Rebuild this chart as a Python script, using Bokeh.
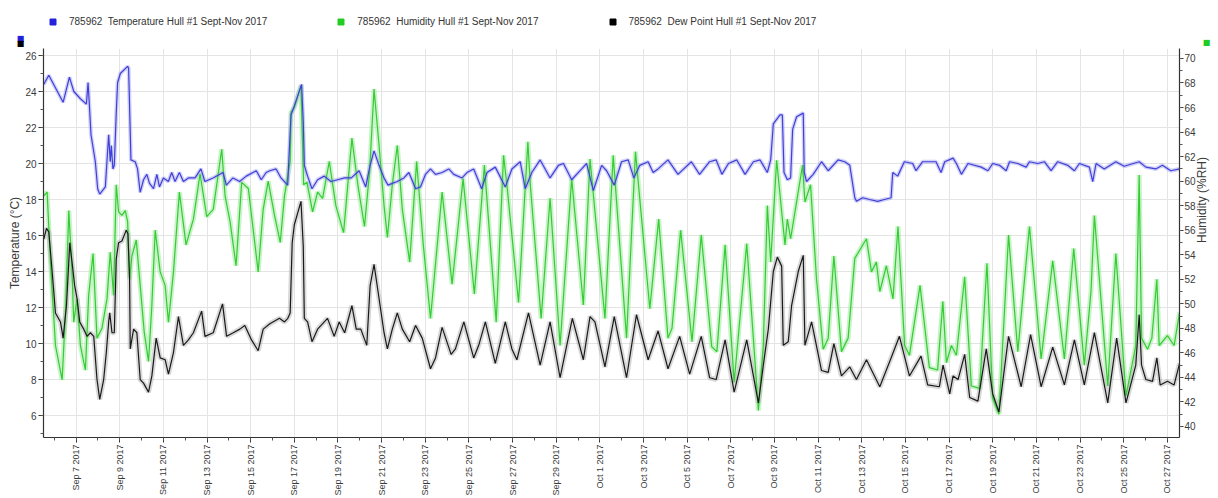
import math
import pandas as pd
from bokeh.plotting import figure
from bokeh.layouts import column
from bokeh.models import (Range1d, LinearAxis, FixedTicker, DatetimeTickFormatter,
                          Legend, LegendItem, Label)
from bokeh.embed import file_html
from bokeh.resources import INLINE

YEAR = "2017-"

# ---------------- Temperature (left axis, degC) ----------------
temp_times = [
    "09-05 12:30", "09-05 18:00", "09-06 09:45", "09-06 16:40", "09-06 21:30", "09-07 04:45",
    "09-07 11:20", "09-07 13:10", "09-07 14:40", "09-07 16:25", "09-07 21:10", "09-07 23:45",
    "09-08 02:00", "09-08 08:10", "09-08 11:50", "09-08 13:35", "09-08 14:45", "09-08 16:30",
    "09-08 18:00", "09-08 20:10", "09-08 21:40", "09-09 00:40", "09-09 08:40", "09-09 09:45",
    "09-09 12:20", "09-09 17:00", "09-09 19:35", "09-09 22:30", "09-10 02:10", "09-10 05:50",
    "09-10 08:45", "09-10 13:10", "09-10 16:50", "09-10 19:40", "09-11 00:00", "09-11 05:30",
    "09-11 09:10", "09-11 12:50", "09-11 17:35", "09-11 22:00", "09-12 03:30", "09-12 10:50",
    "09-12 17:15", "09-12 21:40", "09-13 06:35", "09-13 17:35", "09-13 21:15", "09-14 04:30",
    "09-14 11:50", "09-14 19:10", "09-15 06:10", "09-15 11:40", "09-15 17:00", "09-15 21:00",
    "09-16 03:55", "09-16 09:20", "09-16 16:40", "09-16 20:20", "09-17 00:00", "09-17 08:00",
    "09-17 09:50", "09-17 11:00", "09-17 14:35", "09-17 19:25", "09-18 01:35", "09-18 08:55",
    "09-18 16:10", "09-18 23:30", "09-19 07:20", "09-19 14:40", "09-19 23:15", "09-20 06:30",
    "09-20 11:20", "09-20 15:40", "09-20 21:10", "09-21 02:40", "09-21 07:00", "09-21 11:45",
    "09-21 17:15", "09-22 00:30", "09-22 06:00", "09-22 13:20", "09-22 18:45", "09-23 00:15",
    "09-23 05:45", "09-23 11:15", "09-23 18:30", "09-24 01:50", "09-24 07:20", "09-24 16:30",
    "09-24 21:50", "09-25 05:15", "09-25 14:00", "09-25 19:55", "09-26 05:00", "09-26 16:00",
    "09-26 23:15", "09-27 08:25", "09-27 13:55", "09-27 21:10", "09-28 06:20", "09-28 17:15",
    "09-29 02:25", "09-29 07:55", "09-29 17:00", "09-30 04:00", "09-30 09:25", "09-30 16:50",
    "10-01 01:55", "10-01 07:25", "10-01 15:50", "10-01 23:50", "10-02 07:10", "10-02 13:20",
    "10-02 19:55", "10-03 05:05", "10-03 10:35", "10-03 16:00", "10-04 02:55", "10-04 13:55",
    "10-05 04:35", "10-05 13:40", "10-06 00:40", "10-06 07:55", "10-06 14:10", "10-06 21:25",
    "10-07 06:35", "10-07 15:40", "10-08 00:50", "10-08 08:10", "10-08 16:10", "10-08 19:50",
    "10-08 22:45", "10-09 06:05", "10-09 08:40", "10-09 10:30", "10-09 14:10", "10-09 17:45",
    "10-09 20:00", "10-10 00:20", "10-10 07:40", "10-10 08:45", "10-10 11:20", "10-10 18:35",
    "10-11 03:45", "10-11 11:05", "10-11 22:00", "10-12 05:20", "10-12 10:50", "10-12 16:20",
    "10-12 18:10", "10-13 01:05", "10-13 08:25", "10-13 17:35", "10-14 00:55", "10-14 08:15",
    "10-14 10:05", "10-14 15:30", "10-14 22:50", "10-15 08:00", "10-15 11:40", "10-15 19:00",
    "10-16 09:40", "10-16 15:10", "10-16 19:15", "10-17 04:25", "10-17 08:05", "10-17 13:35",
    "10-17 20:50", "10-18 11:25", "10-18 18:45", "10-19 00:00", "10-19 07:30", "10-19 14:50",
    "10-19 18:30", "10-20 03:35", "10-20 12:45", "10-20 16:25", "10-21 01:30", "10-21 08:50",
    "10-21 16:10", "10-21 23:30", "10-22 10:30", "10-22 17:50", "10-22 23:20", "10-23 10:20",
    "10-23 14:00", "10-23 17:40", "10-24 02:40", "10-24 15:25", "10-25 00:35", "10-25 17:05",
    "10-26 00:25", "10-26 11:20", "10-26 18:40", "10-27 03:50", "10-27 13:30",
]
temp_values = [
    24.4, 24.9, 23.4, 24.8, 24.0, 23.6,
    23.3, 24.5, 23.2, 21.6, 20.1, 18.6,
    18.3, 18.7, 21.6, 20.1, 21.0, 19.7,
    19.9, 22.8, 24.5, 25.0, 25.4, 25.3,
    20.2, 20.1, 19.7, 18.4, 19.1, 19.4,
    18.9, 18.6, 19.4, 18.7, 19.2, 19.0,
    19.5, 19.0, 19.5, 19.0, 19.2, 19.2,
    19.7, 19.0, 19.2, 19.5, 18.8, 19.2,
    19.0, 19.3, 19.6, 19.1, 19.5, 19.6,
    19.7, 19.2, 18.8, 22.7, 23.2, 24.4,
    22.3, 19.9, 19.3, 18.6, 19.1, 19.3,
    19.0, 19.1, 19.2, 19.2, 19.6, 18.7,
    19.9, 20.7, 19.9, 19.2, 18.8, 18.9,
    19.0, 19.2, 19.5, 18.6, 18.7, 19.4,
    19.7, 19.4, 19.5, 19.7, 19.4, 19.2,
    19.5, 19.7, 18.6, 19.5, 19.8, 18.7,
    19.7, 20.1, 18.6, 19.5, 20.2, 19.2,
    19.9, 20.0, 19.1, 19.7, 20.0, 18.5,
    19.9, 19.6, 18.8, 20.1, 20.2, 19.2,
    19.9, 20.1, 19.5, 19.7, 20.2, 19.4,
    20.1, 19.4, 20.1, 20.2, 19.4, 20.0,
    20.2, 19.4, 20.1, 20.2, 19.5, 20.2,
    22.2, 22.7, 22.7, 19.5, 19.1, 19.2,
    21.9, 22.6, 22.8, 19.5, 19.0, 19.4,
    20.1, 19.6, 20.2, 20.1, 19.9, 18.1,
    17.9, 18.1, 18.0, 17.9, 18.0, 18.1,
    19.5, 19.3, 20.1, 20.0, 19.6, 20.1,
    20.1, 19.5, 20.1, 20.3, 20.0, 19.4,
    20.0, 19.8, 19.6, 20.0, 19.9, 19.6,
    20.1, 20.0, 19.8, 20.1, 20.0, 20.1,
    19.6, 20.1, 19.9, 19.6, 20.0, 19.8,
    19.0, 20.0, 19.7, 20.1, 19.85, 20.1,
    19.8, 19.7, 19.9, 19.6, 19.7,
]

# ---------------- Humidity (right axis, %RH) ----------------
hum_times = [
    "09-05 12:30", "09-05 16:10", "09-05 19:50", "09-06 01:20", "09-06 08:40", "09-06 12:20",
    "09-06 16:00", "09-06 19:35", "09-06 21:25", "09-07 01:05", "09-07 04:45", "09-07 10:15",
    "09-07 13:50", "09-07 18:40", "09-07 23:00", "09-08 04:30", "09-08 10:00", "09-08 13:35",
    "09-08 17:15", "09-08 20:10", "09-08 22:45", "09-09 02:25", "09-09 06:05", "09-09 08:40",
    "09-09 10:50", "09-09 13:25", "09-09 18:10", "09-09 22:30", "09-10 02:55", "09-10 07:40",
    "09-10 11:20", "09-10 15:00", "09-10 20:30", "09-11 01:55", "09-11 05:35", "09-11 11:05",
    "09-11 17:35", "09-12 00:55", "09-12 09:00", "09-12 16:20", "09-12 23:40", "09-13 06:50",
    "09-13 16:10", "09-13 19:50", "09-14 01:20", "09-14 07:55", "09-14 14:05", "09-14 21:25",
    "09-15 08:15", "09-15 13:45", "09-15 19:15", "09-16 02:15", "09-16 08:30", "09-16 13:10",
    "09-16 19:25", "09-16 20:20", "09-17 00:00", "09-17 07:20", "09-17 10:15", "09-17 13:55",
    "09-17 20:05", "09-18 01:35", "09-18 07:05", "09-18 14:25", "09-18 21:40", "09-19 06:10",
    "09-19 15:20", "09-19 21:50", "09-20 05:10", "09-20 10:40", "09-20 15:40", "09-20 21:10",
    "09-21 02:40", "09-21 06:20", "09-21 11:45", "09-21 17:15", "09-21 22:45", "09-22 06:50",
    "09-22 14:30", "09-22 21:50", "09-23 05:45", "09-23 18:30", "09-24 05:30", "09-24 17:35",
    "09-25 06:00", "09-25 17:00", "09-26 06:00", "09-26 14:05", "09-26 17:45", "09-27 06:35",
    "09-27 16:50", "09-27 19:30", "09-28 07:25", "09-28 17:15", "09-29 04:15", "09-29 17:00",
    "09-30 05:50", "09-30 13:10", "10-01 05:35", "10-01 14:40", "10-02 05:20", "10-02 15:10",
    "10-03 06:55", "10-03 16:40", "10-04 02:55", "10-04 07:20", "10-04 16:50", "10-05 05:20",
    "10-05 15:30", "10-06 03:00", "10-06 08:40", "10-06 17:45", "10-07 03:40", "10-07 17:30",
    "10-08 06:20", "10-08 11:45", "10-08 16:10", "10-08 19:50", "10-09 02:25", "10-09 07:55",
    "10-09 11:35", "10-09 14:10", "10-09 17:45", "10-10 00:20", "10-10 06:55", "10-10 09:30",
    "10-10 15:40", "10-10 22:15", "10-11 05:35", "10-11 11:05", "10-11 17:20", "10-12 01:40",
    "10-12 09:00", "10-12 16:20", "10-13 05:10", "10-13 10:40", "10-13 16:05", "10-13 19:50",
    "10-14 03:05", "10-14 10:20", "10-14 15:50", "10-14 23:10", "10-15 04:25", "10-15 16:05",
    "10-16 02:20", "10-16 11:25", "10-16 17:10", "10-16 21:05", "10-17 02:35", "10-17 08:05",
    "10-17 17:10", "10-18 00:30", "10-18 09:40", "10-18 17:40", "10-19 00:00", "10-19 06:50",
    "10-19 17:25", "10-20 03:35", "10-20 16:25", "10-21 05:15", "10-21 18:00", "10-22 06:50",
    "10-22 17:05", "10-23 04:45", "10-23 12:05", "10-23 15:50", "10-24 06:30", "10-24 15:25",
    "10-25 02:35", "10-25 13:20", "10-25 17:05", "10-25 19:40", "10-26 02:15", "10-26 07:00",
    "10-26 12:30", "10-26 15:05", "10-27 00:10", "10-27 07:30", "10-27 13:30",
]
hum_values = [
    58.8, 59.1, 53.4, 46.6, 43.8, 49.3,
    57.6, 52.6, 48.5, 50.4, 46.6, 44.6,
    50.7, 54.1, 47.2, 48.0, 50.4, 54.2,
    50.7, 59.7, 57.5, 57.2, 57.6, 56.7,
    52.0, 53.9, 55.2, 51.5, 47.7, 45.3,
    49.9, 56.0, 52.6, 51.5, 48.5, 52.6,
    59.1, 54.8, 56.9, 60.6, 57.1, 57.7,
    62.6, 58.8, 56.7, 53.1, 59.9, 59.4,
    52.6, 57.7, 60.0, 57.2, 55.0, 58.8,
    61.6, 65.6, 66.0, 67.8, 59.7, 59.9,
    57.5, 59.1, 58.6, 61.6, 58.0, 55.8,
    63.5, 59.7, 56.3, 60.7, 67.5, 62.9,
    58.0, 55.4, 59.7, 62.9, 57.7, 53.4,
    61.6, 54.8, 48.8, 59.1, 51.6, 60.2,
    50.8, 61.3, 48.5, 62.1, 59.7, 50.1,
    63.2, 59.7, 48.8, 58.6, 46.6, 60.2,
    49.9, 61.8, 48.8, 62.1, 47.2, 62.4,
    49.6, 56.9, 47.2, 48.0, 56.0, 46.9,
    55.6, 46.5, 46.1, 54.8, 43.6, 54.9,
    41.3, 46.6, 58.0, 53.4, 61.7, 57.5,
    54.8, 56.9, 55.3, 58.3, 61.3, 58.3,
    59.7, 52.0, 46.3, 47.2, 53.9, 46.1,
    47.2, 53.7, 55.3, 52.6, 53.4, 51.0,
    53.1, 50.4, 56.3, 46.6, 45.8, 51.5,
    44.8, 44.6, 50.2, 45.2, 46.6, 45.8,
    52.2, 43.3, 43.1, 53.3, 42.3, 41.0,
    55.6, 46.1, 56.3, 45.5, 53.5, 45.5,
    54.5, 45.0, 51.0, 57.2, 43.3, 54.1,
    42.5, 46.6, 60.5, 47.2, 46.3, 47.2,
    52.0, 46.6, 47.4, 46.6, 49.3,
]

# ---------------- Dew point (left axis, degC) ----------------
dew_times = [
    "09-05 12:30", "09-05 15:25", "09-05 18:00", "09-05 21:40", "09-06 01:20", "09-06 06:50",
    "09-06 09:45", "09-06 13:25", "09-06 17:05", "09-06 19:35", "09-06 22:30", "09-07 01:05",
    "09-07 04:00", "09-07 08:25", "09-07 12:05", "09-07 15:45", "09-07 19:25", "09-07 23:00",
    "09-08 02:00", "09-08 06:20", "09-08 09:15", "09-08 11:50", "09-08 13:00", "09-08 15:30",
    "09-08 18:00", "09-08 20:10", "09-08 22:45", "09-09 02:25", "09-09 07:10", "09-09 09:00",
    "09-09 10:50", "09-09 11:35", "09-09 15:15", "09-09 18:50", "09-09 22:30", "09-10 02:10",
    "09-10 07:40", "09-10 11:20", "09-10 16:05", "09-10 20:30", "09-11 01:55", "09-11 05:35",
    "09-11 11:05", "09-11 16:35", "09-11 22:00", "09-12 03:30", "09-12 09:00", "09-12 18:05",
    "09-12 21:45", "09-13 06:50", "09-13 17:05", "09-13 21:30", "09-14 04:50", "09-14 12:05",
    "09-14 17:35", "09-15 00:55", "09-15 08:15", "09-15 13:45", "09-15 21:05", "09-16 07:40",
    "09-16 13:10", "09-16 16:50", "09-16 19:25", "09-16 21:40", "09-17 00:00", "09-17 07:20",
    "09-17 09:50", "09-17 11:00", "09-17 14:35", "09-17 19:25", "09-18 01:35", "09-18 12:30",
    "09-18 19:50", "09-19 01:20", "09-19 07:20", "09-19 15:20", "09-19 20:05", "09-20 01:05",
    "09-20 07:40", "09-20 11:20", "09-20 15:40", "09-20 21:10", "09-21 02:40", "09-21 06:20",
    "09-21 11:45", "09-21 17:15", "09-21 22:45", "09-22 06:50", "09-22 13:20", "09-22 20:40",
    "09-23 05:45", "09-23 11:15", "09-23 18:30", "09-24 04:25", "09-24 09:10", "09-24 18:25",
    "09-25 05:15", "09-25 10:45", "09-25 18:05", "09-26 05:00", "09-26 16:00", "09-26 23:15",
    "09-27 04:45", "09-27 17:30", "09-28 06:20", "09-28 17:15", "09-29 04:15", "09-29 17:45",
    "09-30 05:50", "09-30 13:10", "09-30 18:35", "10-01 05:35", "10-01 15:50", "10-02 05:20",
    "10-02 16:15", "10-03 05:05", "10-03 16:00", "10-04 02:55", "10-04 15:45", "10-05 02:45",
    "10-05 15:30", "10-06 00:40", "10-06 07:55", "10-06 17:45", "10-07 03:40", "10-07 17:30",
    "10-08 06:20", "10-08 11:45", "10-08 17:15", "10-08 22:45", "10-09 03:10", "10-09 07:55",
    "10-09 09:40", "10-09 15:10", "10-09 18:50", "10-10 02:10", "10-10 07:40", "10-10 09:30",
    "10-10 16:50", "10-11 03:45", "10-11 11:05", "10-11 17:20", "10-12 01:40", "10-12 10:50",
    "10-12 18:10", "10-13 05:10", "10-13 19:50", "10-14 08:15", "10-14 17:25", "10-15 04:25",
    "10-15 17:10", "10-16 00:30", "10-16 13:20", "10-16 17:25", "10-17 00:45", "10-17 04:25",
    "10-17 09:55", "10-17 17:10", "10-17 22:40", "10-18 07:45", "10-18 16:55", "10-19 00:00",
    "10-19 06:50", "10-19 17:25", "10-20 07:20", "10-20 17:40", "10-21 05:15", "10-21 18:00",
    "10-22 06:50", "10-22 17:50", "10-23 04:45", "10-23 15:50", "10-24 06:30", "10-24 16:20",
    "10-25 02:35", "10-25 13:20", "10-25 17:05", "10-25 19:40", "10-26 00:25", "10-26 07:45",
    "10-26 12:30", "10-26 16:10", "10-27 00:10", "10-27 07:30", "10-27 13:30",
]
dew_values = [
    15.8, 16.4, 16.2, 14.0, 11.7, 11.2,
    10.3, 12.1, 15.6, 14.5, 13.2, 12.5,
    11.2, 10.8, 10.4, 10.6, 10.4, 8.0,
    6.9, 8.0, 9.5, 11.2, 11.7, 10.6,
    10.6, 14.7, 15.6, 15.7, 16.3, 16.1,
    13.6, 9.7, 10.8, 10.6, 8.0, 7.8,
    7.3, 8.2, 10.3, 9.2, 9.1, 8.3,
    9.5, 11.5, 9.9, 10.2, 10.6, 11.8,
    10.4, 10.6, 12.2, 10.4, 10.6, 10.8,
    11.0, 10.2, 9.6, 10.8, 11.1, 11.4,
    11.2, 11.4, 11.7, 15.6, 16.6, 17.9,
    15.4, 11.4, 11.2, 10.1, 10.8, 11.4,
    10.4, 11.2, 10.6, 12.1, 10.8, 10.8,
    9.9, 13.2, 14.4, 12.5, 10.6, 9.7,
    10.8, 11.7, 10.8, 10.1, 11.0, 10.3,
    8.6, 9.2, 10.9, 9.4, 9.7, 11.2,
    9.2, 9.9, 11.2, 8.9, 11.2, 9.7,
    9.1, 11.7, 8.8, 11.2, 8.1, 11.4,
    9.1, 11.5, 11.2, 8.7, 11.5, 8.1,
    11.6, 9.1, 10.7, 8.6, 10.4, 8.3,
    10.4, 8.1, 8.0, 10.2, 7.3, 10.2,
    6.7, 8.8, 10.8, 14.0, 14.8, 14.3,
    9.9, 10.1, 12.1, 14.0, 14.9, 9.9,
    11.2, 8.5, 8.4, 10.0, 8.2, 8.7,
    8.0, 9.1, 7.6, 9.2, 10.4, 8.2,
    9.3, 7.7, 7.6, 8.8, 7.2, 8.2,
    8.0, 9.4, 7.0, 6.8, 9.7, 7.2,
    6.2, 10.4, 7.6, 10.5, 7.6, 9.8,
    7.7, 10.2, 7.7, 10.6, 6.7, 10.3,
    6.7, 8.8, 11.6, 8.8, 8.0, 7.9,
    9.2, 7.7, 7.9, 7.7, 8.9,
]

# ---------------- Axis ticks / labels ----------------
x_tick_days = ["09-07", "09-09", "09-11", "09-13", "09-15", "09-17", "09-19", "09-21",
               "09-23", "09-25", "09-27", "09-29", "10-01", "10-03", "10-05", "10-07",
               "10-09", "10-11", "10-13", "10-15", "10-17", "10-19", "10-21", "10-23",
               "10-25", "10-27"]
temp_ticks = [6, 8, 10, 12, 14, 16, 18, 20, 22, 24, 26]
hum_ticks = [40, 42, 44, 46, 48, 50, 52, 54, 56, 58, 60, 62, 64, 66, 68, 70]

series_labels = ["785962  Temperature Hull #1 Sept-Nov 2017",
                 "785962  Humidity Hull #1 Sept-Nov 2017",
                 "785962  Dew Point Hull #1 Sept-Nov 2017"]

FONT = "Liberation Sans"
TEMP_C = "#4040d8"
HUM_C = "#33cc33"
DEW_C = "#1a1a1a"
SQ_T = "#2222dd"
SQ_H = "#22cc22"
SQ_D = "#000000"

W = 1218


def to_dt(lst):
    return pd.to_datetime([YEAR + t for t in lst])


def ms(ts):
    return int(pd.Timestamp(ts).value // 10**6)


t_temp = to_dt(temp_times)
t_hum = to_dt(hum_times)
t_dew = to_dt(dew_times)

x_start = pd.Timestamp("2017-09-05 12:10")
x_end = pd.Timestamp("2017-10-27 13:25")

# ---------------- legend strip ----------------
top = figure(width=W, height=48, x_range=Range1d(0, 1), y_range=Range1d(0, 1),
             output_backend="svg", toolbar_location=None,
             x_axis_location=None, y_axis_location=None,
             min_border_left=0, min_border_right=0, min_border_top=0, min_border_bottom=0)
top.frame_align = False
top.outline_line_color = None
top.xgrid.visible = False
top.ygrid.visible = False
# invisible proxies (outside the strip's range) that only give the legend its square glyphs
lr_t = top.scatter([-5], [-5], marker="square", color=SQ_T, size=6)
lr_h = top.scatter([-5], [-5], marker="square", color=SQ_H, size=6)
lr_d = top.scatter([-5], [-5], marker="square", color=SQ_D, size=6)
legend = Legend(items=[LegendItem(label=series_labels[0], renderers=[lr_t]),
                       LegendItem(label=series_labels[1], renderers=[lr_h]),
                       LegendItem(label=series_labels[2], renderers=[lr_d])],
                orientation="horizontal", location=(45, 19),
                glyph_width=15, glyph_height=15, label_height=15,
                label_standoff=9, spacing=66, padding=2, margin=0,
                label_text_font=FONT, label_text_font_size="10px",
                label_text_color="#333333",
                border_line_color=None, background_fill_alpha=0)
top.add_layout(legend)
# small series markers next to the axes
for xs, ys, col in [(20, 10, SQ_T), (20, 5, SQ_D), (1206, 6, SQ_H)]:
    top.add_layout(Label(x=xs, y=ys, x_units="screen", y_units="screen", text="■",
                         text_color=col, text_font_size="8px", text_align="center",
                         text_baseline="middle", text_font="DejaVu Sans"))

# ---------------- main chart ----------------
p = figure(width=W, height=450, x_axis_type="datetime",
           x_range=Range1d(x_start, x_end), y_range=Range1d(4.78, 26.39),
           output_backend="svg", toolbar_location=None,
           min_border_left=43, min_border_right=35, min_border_top=0, min_border_bottom=61)
p.extra_y_ranges = {"hum": Range1d(39.10, 70.81)}
p.outline_line_color = None
p.background_fill_color = "white"
p.border_fill_color = "white"

major_ms = [ms(YEAR + d) for d in x_tick_days]
minor_ms = [ms(d) for d in pd.date_range("2017-09-05", "2017-10-28", freq="D")]
xticker = FixedTicker(ticks=major_ms, minor_ticks=minor_ms)
p.xaxis.ticker = xticker
p.xaxis.formatter = DatetimeTickFormatter(days="%b %-d %Y", months="%b %-d %Y",
                                          hours="%b %-d %Y")
p.xaxis.major_label_orientation = math.pi / 2
p.xgrid.ticker = xticker

p.yaxis.ticker = FixedTicker(ticks=temp_ticks, minor_ticks=list(range(5, 27)))
p.yaxis.axis_label = "Temperature (°C)"

right = LinearAxis(y_range_name="hum", axis_label="Humidity (%RH)",
                   ticker=FixedTicker(ticks=hum_ticks, minor_ticks=list(range(39, 71))))
p.add_layout(right, "right")

for ax in [p.xaxis[0], p.yaxis[0], right]:
    ax.axis_line_color = "#333333"
    ax.axis_line_width = 1.2
    ax.major_tick_line_color = "#333333"
    ax.minor_tick_line_color = "#555555"
    ax.major_tick_in = 0
    ax.major_tick_out = 5
    ax.minor_tick_in = 0
    ax.minor_tick_out = 3
    ax.major_label_text_color = "#3a3a3a"
    ax.major_label_text_font = FONT
    ax.major_label_text_font_size = "10px"
    ax.major_label_standoff = 2
    ax.axis_label_text_font = FONT
    ax.axis_label_text_font_size = "12px"
    ax.axis_label_text_font_style = "normal"
    ax.axis_label_text_color = "#3a3a3a"
    ax.axis_label_standoff = 3
p.xaxis.major_label_text_font_size = "9px"
p.yaxis.axis_label_standoff = 0
right.major_tick_out = 4
right.major_label_standoff = 1
right.axis_label_standoff = 3
right.axis_label_orientation = math.pi / 2

p.xgrid.grid_line_color = "#e4e4e4"
p.ygrid.grid_line_color = "#e4e4e4"

# soft envelopes
p.line(t_hum, hum_values, y_range_name="hum", line_width=5, color="#9fea9f", alpha=0.55)
p.line(t_dew, dew_values, line_width=5, color="#a8a8a8", alpha=0.45)
p.line(t_temp, temp_values, line_width=4, color="#9c9cf0", alpha=0.45)
# main lines
p.line(t_hum, hum_values, y_range_name="hum", line_width=1.2, color=HUM_C)
p.line(t_dew, dew_values, line_width=1.2, color=DEW_C)
p.line(t_temp, temp_values, line_width=1.2, color=TEMP_C)

layout = column(top, p, spacing=0)
open("out.html", "w").write(file_html(layout, INLINE))
